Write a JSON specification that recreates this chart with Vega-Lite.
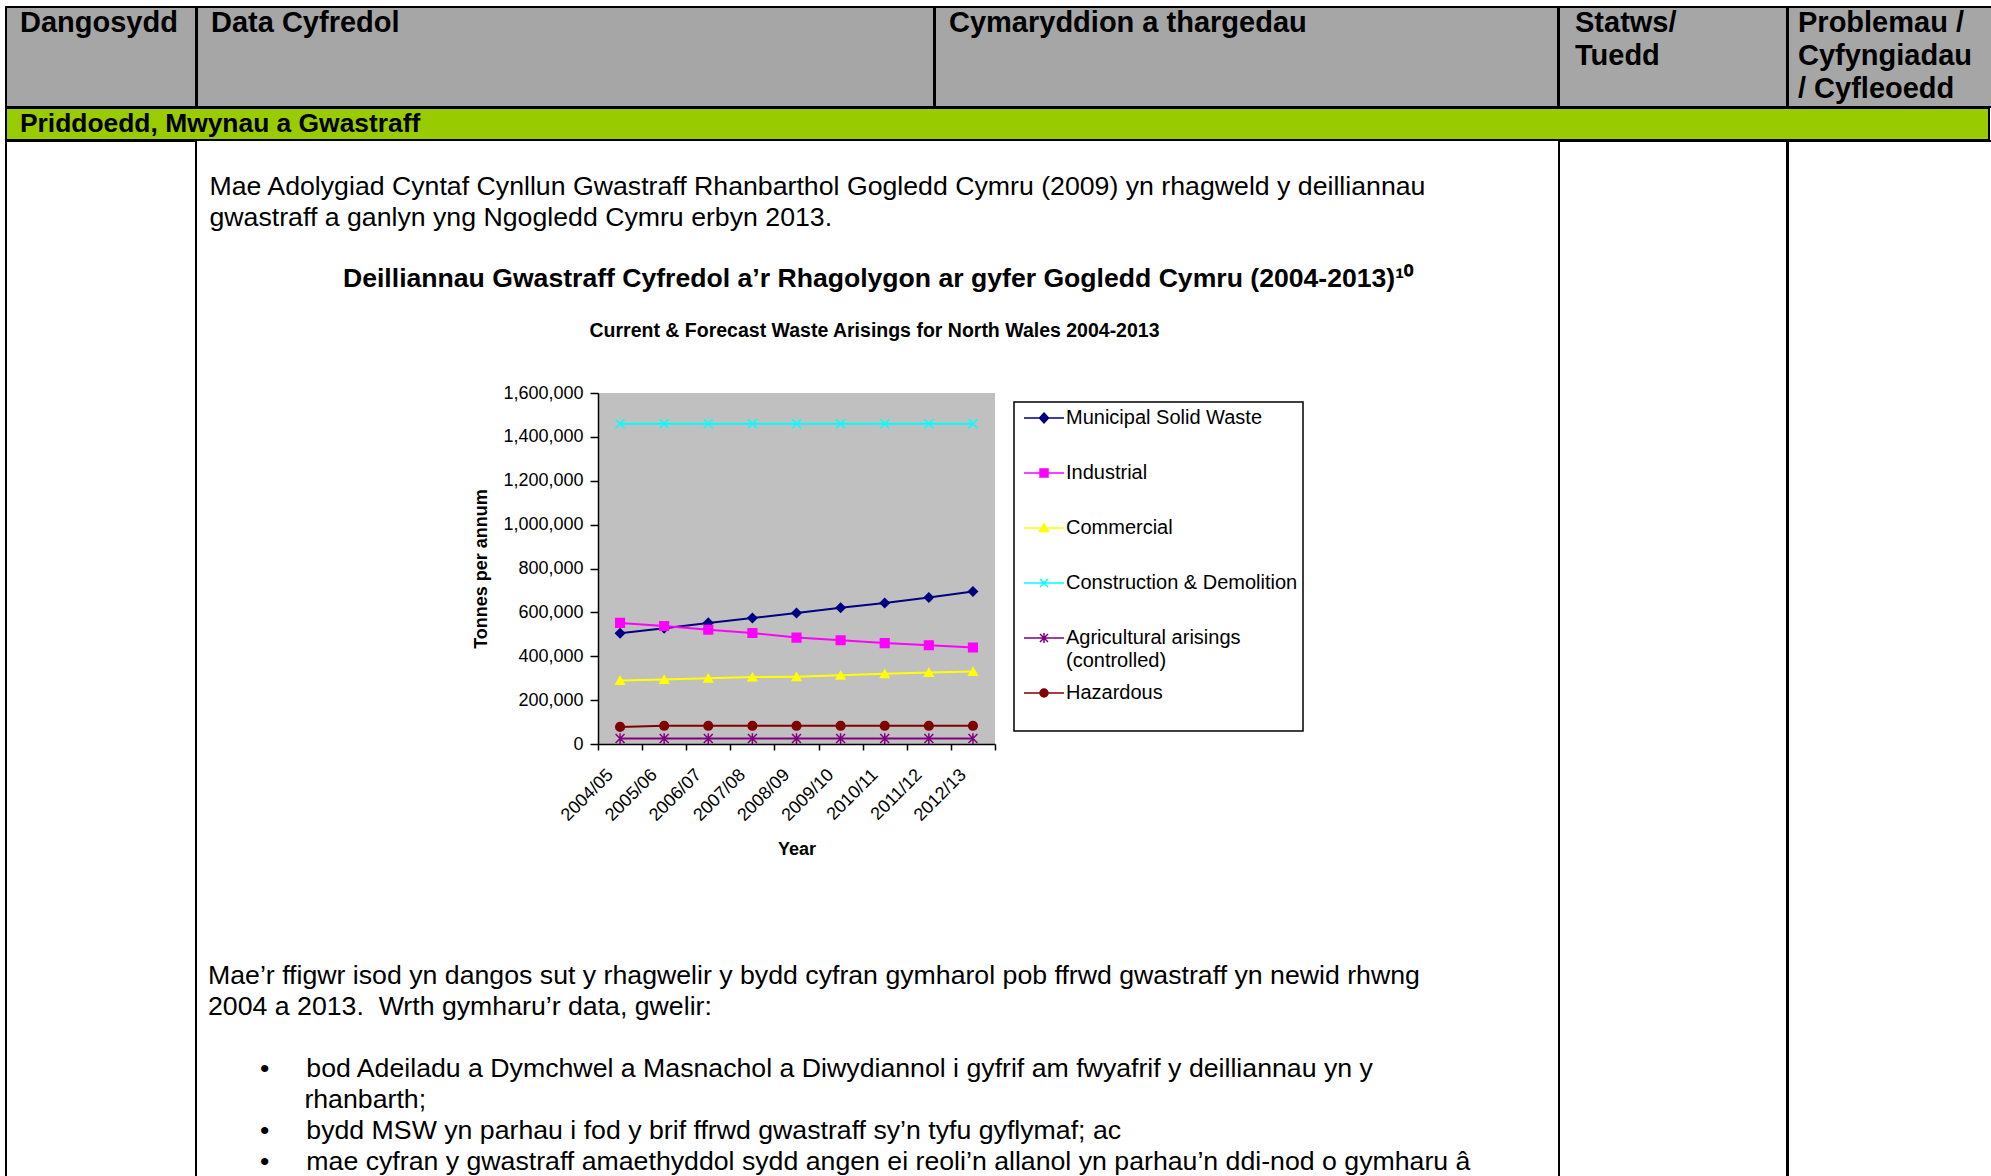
{
  "$schema": "https://vega.github.io/schema/vega-lite/v6.json",
  "background": "white",
  "padding": {"left": 5, "top": 6, "right": 0, "bottom": 0},
  "config": {
    "font": "Liberation Sans",
    "view": {"stroke": null},
    "title": {"color": "black", "font": "Liberation Sans"},
    "axis": {"labelColor": "black", "titleColor": "black", "labelFont": "Liberation Sans", "titleFont": "Liberation Sans"},
    "legend": {"labelFont": "Liberation Sans"}
  },
  "datasets": {
    "waste": [
      {"series": "Municipal Solid Waste", "year": "2004/05", "tonnes": 505000},
      {"series": "Municipal Solid Waste", "year": "2005/06", "tonnes": 528000},
      {"series": "Municipal Solid Waste", "year": "2006/07", "tonnes": 552000},
      {"series": "Municipal Solid Waste", "year": "2007/08", "tonnes": 574000},
      {"series": "Municipal Solid Waste", "year": "2008/09", "tonnes": 597000},
      {"series": "Municipal Solid Waste", "year": "2009/10", "tonnes": 621000},
      {"series": "Municipal Solid Waste", "year": "2010/11", "tonnes": 643000},
      {"series": "Municipal Solid Waste", "year": "2011/12", "tonnes": 668000},
      {"series": "Municipal Solid Waste", "year": "2012/13", "tonnes": 695000},
      {"series": "Industrial", "year": "2004/05", "tonnes": 552000},
      {"series": "Industrial", "year": "2005/06", "tonnes": 538000},
      {"series": "Industrial", "year": "2006/07", "tonnes": 521000},
      {"series": "Industrial", "year": "2007/08", "tonnes": 506000},
      {"series": "Industrial", "year": "2008/09", "tonnes": 485000},
      {"series": "Industrial", "year": "2009/10", "tonnes": 473000},
      {"series": "Industrial", "year": "2010/11", "tonnes": 460000},
      {"series": "Industrial", "year": "2011/12", "tonnes": 450000},
      {"series": "Industrial", "year": "2012/13", "tonnes": 440000},
      {"series": "Commercial", "year": "2004/05", "tonnes": 290000},
      {"series": "Commercial", "year": "2005/06", "tonnes": 294000},
      {"series": "Commercial", "year": "2006/07", "tonnes": 300000},
      {"series": "Commercial", "year": "2007/08", "tonnes": 305000},
      {"series": "Commercial", "year": "2008/09", "tonnes": 307000},
      {"series": "Commercial", "year": "2009/10", "tonnes": 313000},
      {"series": "Commercial", "year": "2010/11", "tonnes": 320000},
      {"series": "Commercial", "year": "2011/12", "tonnes": 326000},
      {"series": "Commercial", "year": "2012/13", "tonnes": 330000},
      {"series": "Construction & Demolition", "year": "2004/05", "tonnes": 1460000},
      {"series": "Construction & Demolition", "year": "2005/06", "tonnes": 1460000},
      {"series": "Construction & Demolition", "year": "2006/07", "tonnes": 1460000},
      {"series": "Construction & Demolition", "year": "2007/08", "tonnes": 1460000},
      {"series": "Construction & Demolition", "year": "2008/09", "tonnes": 1460000},
      {"series": "Construction & Demolition", "year": "2009/10", "tonnes": 1460000},
      {"series": "Construction & Demolition", "year": "2010/11", "tonnes": 1460000},
      {"series": "Construction & Demolition", "year": "2011/12", "tonnes": 1460000},
      {"series": "Construction & Demolition", "year": "2012/13", "tonnes": 1460000},
      {"series": "Agricultural arisings (controlled)", "year": "2004/05", "tonnes": 25000},
      {"series": "Agricultural arisings (controlled)", "year": "2005/06", "tonnes": 25000},
      {"series": "Agricultural arisings (controlled)", "year": "2006/07", "tonnes": 25000},
      {"series": "Agricultural arisings (controlled)", "year": "2007/08", "tonnes": 25000},
      {"series": "Agricultural arisings (controlled)", "year": "2008/09", "tonnes": 25000},
      {"series": "Agricultural arisings (controlled)", "year": "2009/10", "tonnes": 25000},
      {"series": "Agricultural arisings (controlled)", "year": "2010/11", "tonnes": 25000},
      {"series": "Agricultural arisings (controlled)", "year": "2011/12", "tonnes": 25000},
      {"series": "Agricultural arisings (controlled)", "year": "2012/13", "tonnes": 25000},
      {"series": "Hazardous", "year": "2004/05", "tonnes": 78000},
      {"series": "Hazardous", "year": "2005/06", "tonnes": 83000},
      {"series": "Hazardous", "year": "2006/07", "tonnes": 83000},
      {"series": "Hazardous", "year": "2007/08", "tonnes": 83000},
      {"series": "Hazardous", "year": "2008/09", "tonnes": 83000},
      {"series": "Hazardous", "year": "2009/10", "tonnes": 83000},
      {"series": "Hazardous", "year": "2010/11", "tonnes": 83000},
      {"series": "Hazardous", "year": "2011/12", "tonnes": 83000},
      {"series": "Hazardous", "year": "2012/13", "tonnes": 83000}
    ]
  },
  "spacing": -2,
  "vconcat": [
    {
      "spacing": -2,
      "hconcat": [
        {"width": 190, "height": 100, "data": {"values": []}, "mark": "point", "encoding": {},
         "view": {"fill": "#A6A6A6", "stroke": "black", "strokeWidth": 2},
         "title": {"text": "Dangosydd", "anchor": "start", "offset": -30.8, "dx": 14, "fontSize": 29, "fontWeight": "bold", "lineHeight": 33}},
        {"width": 737, "height": 100, "data": {"values": []}, "mark": "point", "encoding": {},
         "view": {"fill": "#A6A6A6", "stroke": "black", "strokeWidth": 2},
         "title": {"text": "Data Cyfredol", "anchor": "start", "offset": -30.8, "dx": 14, "fontSize": 29, "fontWeight": "bold", "lineHeight": 33}},
        {"width": 623, "height": 100, "data": {"values": []}, "mark": "point", "encoding": {},
         "view": {"fill": "#A6A6A6", "stroke": "black", "strokeWidth": 2},
         "title": {"text": "Cymaryddion a thargedau", "anchor": "start", "offset": -30.8, "dx": 14, "fontSize": 29, "fontWeight": "bold", "lineHeight": 33}},
        {"width": 228, "height": 100, "data": {"values": []}, "mark": "point", "encoding": {},
         "view": {"fill": "#A6A6A6", "stroke": "black", "strokeWidth": 2},
         "title": {"text": ["Statws/", "Tuedd"], "anchor": "start", "offset": -63.8, "dx": 16, "fontSize": 29, "fontWeight": "bold", "lineHeight": 33}},
        {"width": 205, "height": 100, "data": {"values": []}, "mark": "point", "encoding": {},
         "view": {"fill": "#A6A6A6", "stroke": "black", "strokeWidth": 2},
         "title": {"text": ["Problemau /", "Cyfyngiadau", "/ Cyfleoedd"], "anchor": "start", "offset": -96.8, "dx": 10, "fontSize": 29, "fontWeight": "bold", "lineHeight": 33}}
      ]
    },
    {"width": 1983, "height": 32, "data": {"values": []}, "mark": "point", "encoding": {},
     "view": {"fill": "#99CC00", "stroke": "black", "strokeWidth": 2},
     "title": {"text": "Priddoedd, Mwynau a Gwastraff", "anchor": "start", "offset": -29.2, "dx": 14, "fontSize": 26.4, "fontWeight": "bold"}},
    {
      "spacing": -2,
      "hconcat": [
        {"width": 190, "height": 1100, "data": {"values": []}, "mark": "point", "encoding": {},
         "view": {"stroke": "black", "strokeWidth": 2}},
        {
          "spacing": 0,
          "vconcat": [
            {"width": 1362, "height": 120, "data": {"values": []}, "mark": "point", "encoding": {},
             "title": {"text": ["Mae Adolygiad Cyntaf Cynllun Gwastraff Rhanbarthol Gogledd Cymru (2009) yn rhagweld y deilliannau", "gwastraff a ganlyn yng Ngogledd Cymru erbyn 2013."],
                       "anchor": "start", "offset": -90.6, "dx": 12.5, "fontSize": 26.7, "fontWeight": "normal", "lineHeight": 30.5}},
            {"width": 1362, "height": 58.5, "data": {"values": []}, "mark": "point", "encoding": {},
             "title": {"text": "Deilliannau Gwastraff Cyfredol a’r Rhagolygon ar gyfer Gogledd Cymru (2004-2013)¹⁰",
                       "anchor": "middle", "offset": -31.6, "fontSize": 26.6, "fontWeight": "bold"}},
            {
              "spacing": 0,
              "hconcat": [
                {"width": 275, "height": 570, "data": {"values": []}, "mark": "point", "encoding": {}},
                {
                  "width": 397,
                  "height": 351,
                  "data": {"name": "waste"},
                  "view": {"fill": "#C0C0C0", "stroke": null},
                  "title": {"text": "Current & Forecast Waste Arisings for North Wales 2004-2013", "anchor": "middle", "dx": 78, "offset": 43, "fontSize": 19.5, "fontWeight": "bold"},
                  "encoding": {
                    "x": {"field": "year", "type": "ordinal", "bandPosition": 0.5,
                          "scale": {"type": "band", "paddingInner": 0, "paddingOuter": 0},
                          "axis": {"title": "Year", "titleFontSize": 18, "titleFontWeight": "bold", "titlePadding": 16,
                                   "labelAngle": -45, "labelAlign": "right", "labelBaseline": "middle", "labelFontSize": 18,
                                   "labelPadding": 22, "labelOffset": -10,
                                   "tickBand": "extent", "tickSize": 6, "tickColor": "black", "tickWidth": 1.5,
                                   "domainColor": "black", "domainWidth": 1.5, "grid": false}},
                    "y": {"field": "tonnes", "type": "quantitative",
                          "scale": {"domain": [0, 1600000], "nice": false},
                          "axis": {"title": "Tonnes per annum", "titleFontSize": 18, "titleFontWeight": "bold", "titlePadding": 12,
                                   "values": [0, 200000, 400000, 600000, 800000, 1000000, 1200000, 1400000, 1600000],
                                   "format": ",.0f", "labelFontSize": 18, "labelPadding": 7,
                                   "tickSize": 8, "tickColor": "black", "tickWidth": 1.5,
                                   "domainColor": "black", "domainWidth": 1.5, "grid": false}}
                  },
                  "layer": [
                    {"mark": {"type": "line", "strokeWidth": 2},
                     "encoding": {
                       "color": {"field": "series", "type": "nominal",
                                 "scale": {"domain": ["Municipal Solid Waste", "Industrial", "Commercial", "Construction & Demolition", "Agricultural arisings (controlled)", "Hazardous"],
                                           "range": ["#000080", "#FF00FF", "#FFFF00", "#00FFFF", "#800080", "#800000"]},
                                 "legend": {"orient": "none", "legendX": 1008, "legendY": 395, "title": null,
                                            "strokeColor": "black", "fillColor": "white", "padding": 5, "rowPadding": 11,
                                            "symbolSize": 400, "symbolOffset": 14, "symbolStrokeWidth": 1.5, "labelFontSize": 20, "labelColor": "black",
                                            "labelOffset": 11, "labelLimit": 400,
                                            "labelExpr": "datum.label == 'Agricultural arisings (controlled)' ? ['Agricultural arisings', '(controlled)'] : [datum.label, '']",
                                            "encode": {
                                              "legend": {"update": {"strokeWidth": {"value": 1.5}}},
                                              "labels": {"update": {"lineHeight": {"value": 23}}},
                                              "symbols": {"update": {
                                                "shape": {"signal": "datum.value == 'Municipal Solid Waste' ? 'M-2,0L2,0M0,-0.5L0.45,0L0,0.5L-0.45,0Z' : datum.value == 'Industrial' ? 'M-2,0L2,0M-0.4,-0.4L0.4,-0.4L0.4,0.4L-0.4,0.4Z' : datum.value == 'Commercial' ? 'M-2,0L2,0M0,-0.45L0.45,0.35L-0.45,0.35Z' : datum.value == 'Construction & Demolition' ? 'M-2,0L2,0M-0.4,-0.4L0.4,0.4M-0.4,0.4L0.4,-0.4' : datum.value == 'Hazardous' ? 'M-2,0L2,0M0.4,0A0.4,0.4,0,1,1,-0.4,0A0.4,0.4,0,1,1,0.4,0Z' : 'M-2,0L2,0M-0.4,-0.4L0.4,0.4M-0.4,0.4L0.4,-0.4M0,-0.5L0,0.5'"},
                                                "fill": {"signal": "datum.value == 'Municipal Solid Waste' ? '#000080' : datum.value == 'Industrial' ? '#FF00FF' : datum.value == 'Commercial' ? '#FFFF00' : datum.value == 'Construction & Demolition' ? '#00FFFF' : datum.value == 'Hazardous' ? '#800000' : '#800080'"},
                                                "stroke": {"signal": "datum.value == 'Municipal Solid Waste' ? '#000080' : datum.value == 'Industrial' ? '#FF00FF' : datum.value == 'Commercial' ? '#FFFF00' : datum.value == 'Construction & Demolition' ? '#00FFFF' : datum.value == 'Hazardous' ? '#800000' : '#800080'"},
                                                "strokeWidth": {"value": 1.5},
                                                "opacity": {"value": 1}
                                              }}
                                            }}}
                     }},
                    {"transform": [{"filter": "datum.series == 'Municipal Solid Waste'"}],
                     "mark": {"type": "point", "shape": "diamond", "filled": true, "size": 80, "opacity": 1, "fill": "#000080", "stroke": "#000080", "strokeWidth": 1.5}},
                    {"transform": [{"filter": "datum.series == 'Industrial'"}],
                     "mark": {"type": "point", "shape": "square", "filled": true, "size": 75, "opacity": 1, "fill": "#FF00FF", "stroke": "#FF00FF", "strokeWidth": 1.5}},
                    {"transform": [{"filter": "datum.series == 'Commercial'"}],
                     "mark": {"type": "point", "shape": "triangle-up", "filled": true, "size": 75, "opacity": 1, "fill": "#FFFF00", "stroke": "#FFFF00", "strokeWidth": 1.5}},
                    {"transform": [{"filter": "datum.series == 'Construction & Demolition'"}],
                     "mark": {"type": "point", "shape": "M-1,-1L1,1M-1,1L1,-1", "filled": true, "size": 80, "opacity": 1, "fill": "#00FFFF", "stroke": "#00FFFF", "strokeWidth": 1.5}},
                    {"transform": [{"filter": "datum.series == 'Agricultural arisings (controlled)'"}],
                     "mark": {"type": "point", "shape": "M-1,-1L1,1M-1,1L1,-1M0,-1.2L0,1.2", "filled": true, "size": 80, "opacity": 1, "fill": "#800080", "stroke": "#800080", "strokeWidth": 1.5}},
                    {"transform": [{"filter": "datum.series == 'Hazardous'"}],
                     "mark": {"type": "point", "shape": "circle", "filled": true, "size": 75, "opacity": 1, "fill": "#800000", "stroke": "#800000", "strokeWidth": 1.5}}
                  ]
                }
              ]
            },
            {"width": 1362, "height": 93, "data": {"values": []}, "mark": "point", "encoding": {},
             "title": {"text": [
                "Mae’r ffigwr isod yn dangos sut y rhagwelir y bydd cyfran gymharol pob ffrwd gwastraff yn newid rhwng",
                "2004 a 2013.\u00a0 Wrth gymharu’r data, gwelir:"],
               "anchor": "start", "offset": -57.7, "dx": 11, "fontSize": 26.7, "fontWeight": "normal", "lineHeight": 31}},
            {"width": 1362, "height": 200, "data": {"values": []}, "mark": "point", "encoding": {},
             "title": {"text": [
                "\u200b\u00a0\u00a0\u00a0\u00a0\u00a0\u00a0\u00a0•\u00a0\u00a0\u00a0\u00a0\u00a0bod Adeiladu a Dymchwel a Masnachol a Diwydiannol i gyfrif am fwyafrif y deilliannau yn y",
                "\u200b\u00a0\u00a0\u00a0\u00a0\u00a0\u00a0\u00a0\u00a0\u00a0\u00a0\u00a0\u00a0\u00a0rhanbarth;",
                "\u200b\u00a0\u00a0\u00a0\u00a0\u00a0\u00a0\u00a0•\u00a0\u00a0\u00a0\u00a0\u00a0bydd MSW yn parhau i fod y brif ffrwd gwastraff sy’n tyfu gyflymaf; ac",
                "\u200b\u00a0\u00a0\u00a0\u00a0\u00a0\u00a0\u00a0•\u00a0\u00a0\u00a0\u00a0\u00a0mae cyfran y gwastraff amaethyddol sydd angen ei reoli’n allanol yn parhau’n ddi-nod o gymharu â"],
               "anchor": "start", "offset": -119.7, "dx": 11, "fontSize": 26.7, "fontWeight": "normal", "lineHeight": 31}}
          ]
        },
        {"width": 228, "height": 1100, "data": {"values": []}, "mark": "point", "encoding": {},
         "view": {"stroke": "black", "strokeWidth": 2}},
        {"width": 205, "height": 1100, "data": {"values": []}, "mark": "point", "encoding": {},
         "view": {"stroke": "black", "strokeWidth": 2}}
      ]
    }
  ]
}
